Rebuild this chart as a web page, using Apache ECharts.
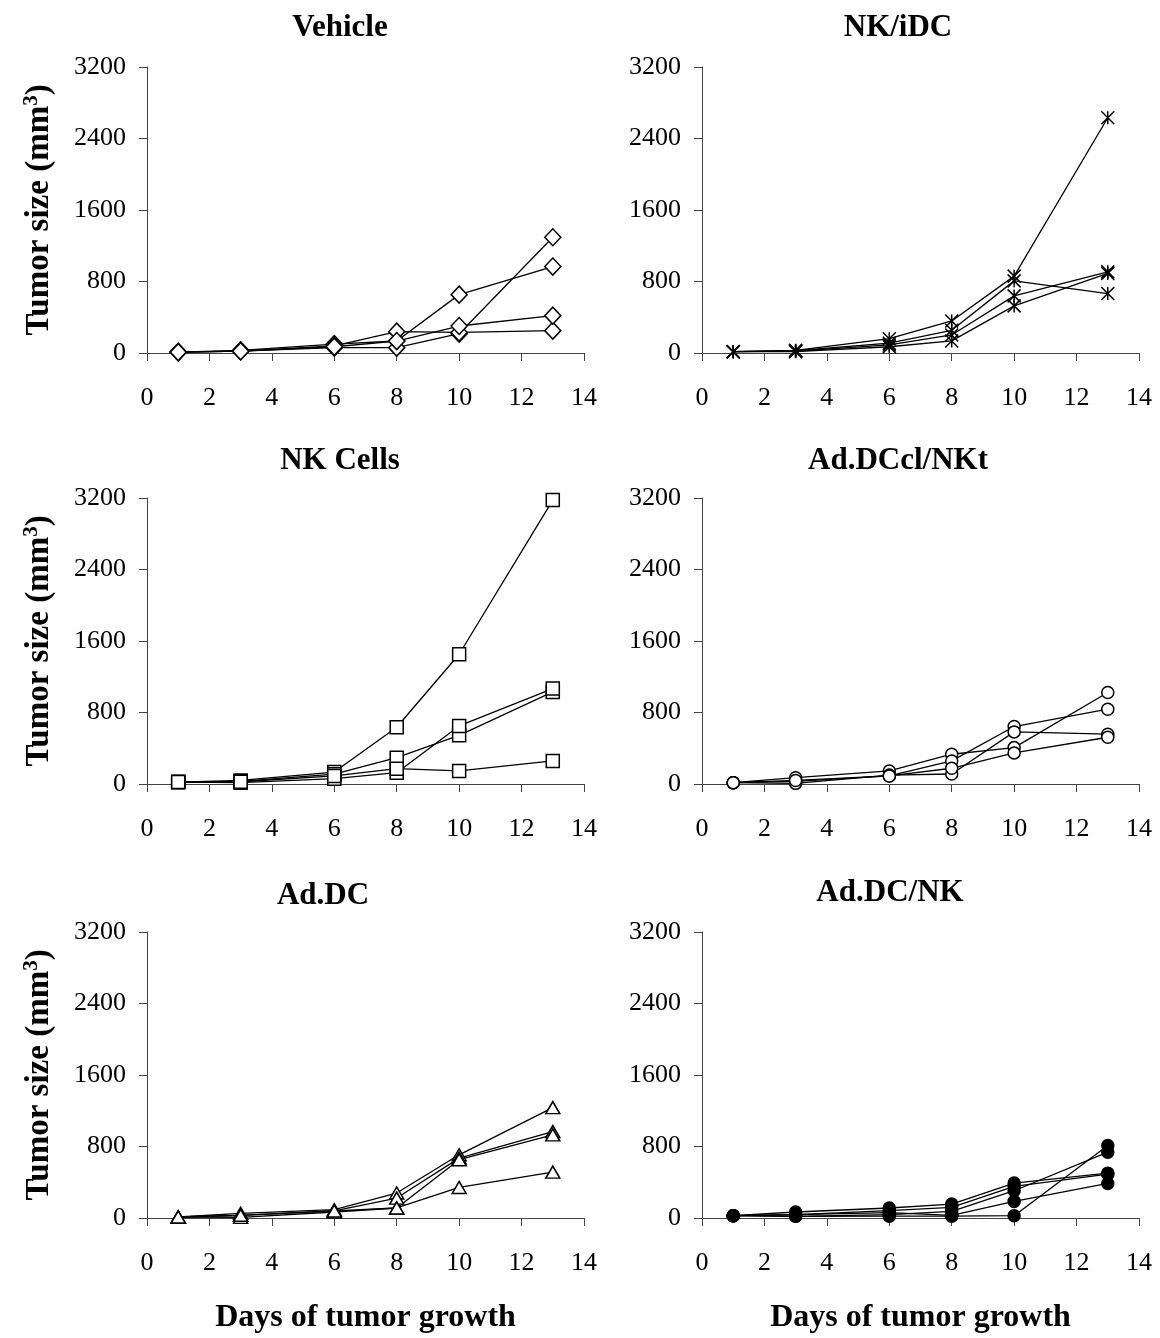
<!DOCTYPE html>
<html>
<head>
<meta charset="utf-8">
<script src="https://cdn.jsdelivr.net/npm/echarts@6/dist/echarts.min.js"></script>
<style>
  html, body { margin: 0; padding: 0; background: #fff; }
  #chart { width: 1160px; height: 1338px; }
</style>
</head>
<body>
<div id="chart"></div>
<script>
const days = [1, 3, 6, 8, 10, 13];
const panelTitles = ['Vehicle', 'NK/iDC', 'NK Cells', 'Ad.DCcl/NKt', 'Ad.DC', 'Ad.DC/NK'];

const vehicle = [
    [10, 20, 60, 60, 216, 1295],
    [10, 30, 100, 134, 653, 967],
    [10, 20, 80, 239, 230, 250],
    [10, 20, 70, 134, 302, 418]
];
const nkIdc = [
    [15, 30, 160, 359, 860, 2632],
    [15, 25, 110, 254, 807, 665],
    [15, 20, 90, 202, 639, 908],
    [15, 15, 70, 135, 527, 890]
];
const nkCells = [
    [22, 40, 134, 635, 1452, 3177],
    [22, 30, 110, 295, 545, 1030],
    [22, 15, 60, 127, 650, 1068],
    [22, 25, 90, 172, 146, 258]
];
const adDCclNKt = [
    [15, 71, 146, 333, 407, 1024],
    [15, 30, 90, 258, 643, 837],
    [15, 7, 100, 112, 583, 557],
    [15, 40, 90, 176, 348, 523]
];
const adDC = [
    [11, 52, 93, 279, 707, 1235],
    [11, 30, 80, 223, 670, 967],
    [11, 7, 67, 112, 652, 930],
    [11, 30, 80, 112, 342, 513]
];
const adDCNK = [
    [26, 67, 112, 156, 391, 502],
    [26, 37, 82, 119, 353, 490],
    [26, 19, 37, 74, 305, 737],
    [26, 37, 60, 30, 186, 387],
    [26, 19, 20, 20, 26, 811]
];
const panelData = [vehicle, nkIdc, nkCells, adDCclNKt, adDC, adDCNK];

// marker per panel (the NK/iDC one is Excel's star: an X with a vertical bar)
const starPath = 'path://M0,0L10,10M10,0L0,10M5,0L5,10';
const markers = [
    { symbol: 'diamond', size: [16, 17], fill: '#fff' },
    { symbol: starPath, size: 13, fill: 'none' },
    { symbol: 'rect', size: 13, fill: '#fff' },
    { symbol: 'circle', size: 12, fill: '#fff' },
    { symbol: 'triangle', size: [14, 12], fill: '#fff' },
    { symbol: 'circle', size: 12, fill: '#000' }
];

const font = '"Liberation Serif", "Times New Roman", serif';
const colLeft = [147, 702];
const rowTop = [67, 498, 932];
const gridW = 437, gridH = 286;
// title centres, one per panel
const titleX = [335, 893, 335, 893, 318, 885];
const titleY = [7, 7, 440, 440, 875, 872];

const grids = [], xAxes = [], yAxes = [], titles = [], series = [];

panelData.forEach((lines, p) => {
    const col = p % 2, row = Math.floor(p / 2);
    grids.push({ left: colLeft[col], top: rowTop[row], width: gridW, height: gridH });

    titles.push({
        text: panelTitles[p],
        left: titleX[p],
        top: titleY[p],
        textAlign: 'center',
        textStyle: { fontFamily: font, fontSize: 31, fontWeight: 'bold', color: '#000' }
    });

    xAxes.push({
        gridIndex: p,
        type: 'value',
        min: 0, max: 14, interval: 2,
        name: row === 2 ? 'Days of tumor growth' : '',
        nameLocation: 'middle',
        nameGap: 84,
        nameTextStyle: { fontFamily: font, fontSize: 32, fontWeight: 'bold', color: '#000' },
        axisLine: { onZero: false, lineStyle: { color: '#444', width: 1 } },
        axisTick: { show: true, length: 8, lineStyle: { color: '#444' } },
        axisLabel: { fontFamily: font, fontSize: 26, color: '#000', margin: 32 },
        splitLine: { show: false }
    });

    yAxes.push({
        gridIndex: p,
        type: 'value',
        min: 0, max: 3200, interval: 800,
        name: col === 0 ? '{t|Tumor size (mm}{s|3}{t|)}' : '',
        nameLocation: 'middle',
        nameGap: 90,
        nameRotate: 90,
        nameTextStyle: {
            rich: {
                t: { fontFamily: font, fontSize: 33, fontWeight: 'bold', color: '#000' },
                s: { fontFamily: font, fontSize: 21, fontWeight: 'bold', color: '#000', verticalAlign: 'top', padding: [0, 0, 15, 0] }
            }
        },
        axisLine: { show: true, lineStyle: { color: '#444', width: 1 } },
        axisTick: { show: true, length: 8, lineStyle: { color: '#444' } },
        axisLabel: { fontFamily: font, fontSize: 26, color: '#000', margin: 21, formatter: (v) => String(v) },
        splitLine: { show: false }
    });

    const m = markers[p];
    lines.forEach((vals) => {
        series.push({
            type: 'line',
            xAxisIndex: p,
            yAxisIndex: p,
            data: days.map((d, i) => [d, vals[i]]),
            symbol: m.symbol,
            symbolSize: m.size,
            showAllSymbol: true,
            lineStyle: { color: '#000', width: 1.3 },
            itemStyle: { color: m.fill, borderColor: '#000', borderWidth: 1.5 },
            animation: false,
            z: 3
        });
    });
});

const chart = echarts.init(document.getElementById('chart'));
chart.setOption({
    backgroundColor: '#fff',
    animation: false,
    title: titles,
    grid: grids,
    xAxis: xAxes,
    yAxis: yAxes,
    series: series
});
</script>
</body>
</html>
